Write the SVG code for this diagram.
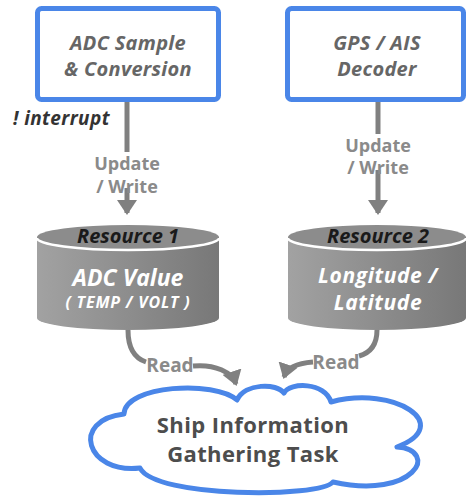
<svg xmlns="http://www.w3.org/2000/svg" width="467" height="498" viewBox="0 0 467 498">
<style>
.box{fill:#fff;stroke:#4a86e8;stroke-width:5}
.btxt{font-family:"Open Sans","Noto Sans",sans-serif;font-style:italic;font-weight:bold;font-size:20px;fill:#666;text-anchor:middle}
.conn{stroke:#808080;stroke-width:5;fill:none}
.lbl{font-family:"Open Sans","Noto Sans",sans-serif;font-weight:bold;font-size:18px;fill:#8a8a8a;text-anchor:middle}
.res{font-family:"Open Sans","Noto Sans",sans-serif;font-style:italic;font-weight:bold;font-size:20px;fill:#1a1a1a;text-anchor:middle}
.ctxt{font-family:"Open Sans","Noto Sans",sans-serif;font-style:italic;font-weight:bold;font-size:23px;fill:#fff;text-anchor:middle}
.cloudtxt{font-family:"Open Sans","Noto Sans",sans-serif;font-weight:bold;font-size:22px;fill:#4d4d4d;text-anchor:middle}
</style>
<defs>
<marker id="ah" markerWidth="4" markerHeight="4" refX="2.6" refY="2" orient="auto" markerUnits="strokeWidth">
<path d="M0,0 L3,2 L0,4 Z" fill="#808080"/>
</marker>
<linearGradient id="cyl" x1="0" y1="0" x2="1" y2="0">
<stop offset="0" stop-color="#a2a2a2"/>
<stop offset="1" stop-color="#787878"/>
</linearGradient>
</defs>
<g id="connectors">
<path class="conn" d="M127,101 V152"/>
<path class="conn" d="M127,188 V213" marker-end="url(#ah)"/>
<path class="conn" d="M378,101 V134"/>
<path class="conn" d="M378,170 V213" marker-end="url(#ah)"/>
<path class="conn" d="M128,330 C128,348 134,358 146,362"/>
<path class="conn" d="M193,366 C215,364 232,372 236,384" marker-end="url(#ah)"/>
<path class="conn" d="M377,330 C377,345 370,353 359,356"/>
<path class="conn" d="M313,362 C298,363 287,368 284,377" marker-end="url(#ah)"/>
<text class="lbl" x="127" y="170">Update</text>
<text class="lbl" x="127" y="193">/ Write</text>
<text class="lbl" x="378" y="152">Update</text>
<text class="lbl" x="378" y="174">/ Write</text>
<text class="lbl" x="170" y="372" style="font-size:19px">Read</text>
<text class="lbl" x="336" y="369" style="font-size:19px">Read</text>
<text x="13" y="125" style="font-family:'Open Sans','Noto Sans',sans-serif;font-style:italic;font-weight:bold;font-size:19px;letter-spacing:0.4px;fill:#333">! interrupt</text>
</g>
<g id="adc">
<rect class="box" x="37.5" y="8.5" width="181" height="91" rx="4"/>
<text class="btxt" x="128" y="50" style="letter-spacing:0.3px">ADC Sample</text>
<text class="btxt" x="128" y="76" style="letter-spacing:0.3px">&amp; Conversion</text>
</g>
<g id="gps">
<rect class="box" x="287.5" y="8.5" width="176" height="91" rx="4"/>
<text class="btxt" x="377" y="50" style="letter-spacing:0.3px">GPS / AIS</text>
<text class="btxt" x="377" y="76" style="letter-spacing:0.3px">Decoder</text>
</g>
<g id="resource1">
<path d="M37,237 V318 A91,12 0 0 0 219,318 V237 Z" fill="url(#cyl)"/>
<ellipse cx="128" cy="237" rx="91" ry="12" fill="#8c8c8c"/>
<path d="M37,238 A91,12 0 0 0 219,238" fill="none" stroke="#fff" stroke-width="2.5"/>
<text class="res" x="128" y="243">Resource 1</text>
<text class="ctxt" x="128" y="286">ADC Value</text>
<text class="ctxt" x="128" y="308" style="font-size:16px;letter-spacing:0.8px">( TEMP / VOLT )</text>
</g>
<g id="resource2">
<path d="M288,237 V318 A89,12 0 0 0 466,318 V237 Z" fill="url(#cyl)"/>
<ellipse cx="377" cy="237" rx="89" ry="12" fill="#8c8c8c"/>
<path d="M288,238 A89,12 0 0 0 466,238" fill="none" stroke="#fff" stroke-width="2.5"/>
<text class="res" x="378" y="243">Resource 2</text>
<text class="ctxt" x="378" y="283" style="font-size:21px;letter-spacing:0.6px">Longitude /</text>
<text class="ctxt" x="378" y="310" style="font-size:21px;letter-spacing:0.6px">Latitude</text>
</g>
<g id="task">
<path d="M140,468 C86,474 70,420 124,414 C125,385 215,380 237,400 C245,383 277,383 284,393 C290,382 325,382 331,402 C395,385 455,425 397,447 C440,450 415,500 333,482 C320,498 155,498 140,468 Z" fill="#fff" stroke="#4a86e8" stroke-width="5" stroke-linejoin="round"/>
<text class="cloudtxt" x="253" y="433" style="letter-spacing:0.4px">Ship Information</text>
<text class="cloudtxt" x="253" y="462" style="letter-spacing:0.4px">Gathering Task</text>
</g>
</svg>
